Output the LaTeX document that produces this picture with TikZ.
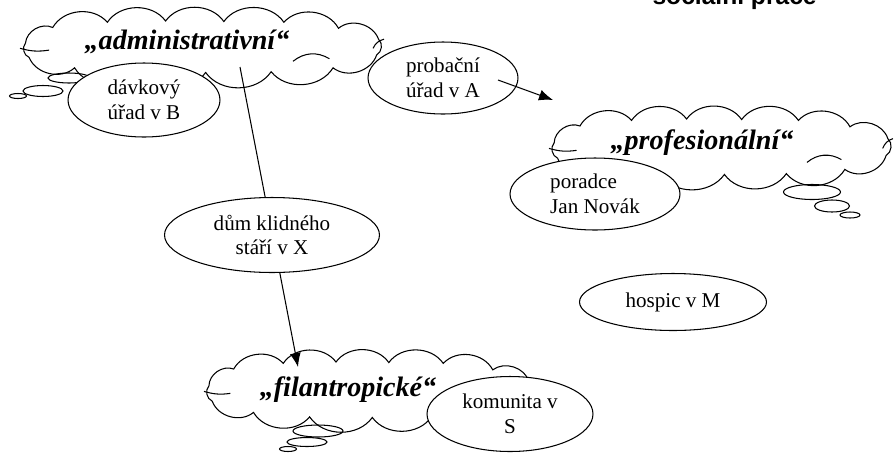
\documentclass[tikz,border=0pt]{standalone}
\usepackage{fontspec}
\setmainfont{Liberation Serif}
\newfontfamily\headfont{Liberation Sans}
\usetikzlibrary{shapes.geometric,arrows.meta}

\tikzset{
  cloud rx/.store in=\cloudrx, cloud rx=100,
  cloud ry/.store in=\cloudry, cloud ry=20,
  thoughtcloud/.pic={
    \draw ({-0.97*\cloudrx},{-0.15*\cloudry}) \foreach \cx/\cy in {-0.82/-0.75,-0.52/-0.95,-0.2/-1,0.12/-0.98,
        0.45/-0.95,0.75/-0.72,0.97/-0.3,0.96/0.3,0.72/0.8,0.38/0.95,
        0.02/0.98,-0.36/0.96,-0.7/0.8,-0.95/0.4,-0.97/-0.15} {to[bend left=55] ({\cx*\cloudrx},{\cy*\cloudry})};
    \draw ({-1.0*\cloudrx},{0.05*\cloudry}) to[bend right=12] ({-0.84*\cloudrx},{0.12*\cloudry});
    \draw ({0.5*\cloudrx},{0.55*\cloudry}) to[bend left=35] ({0.7*\cloudrx},{0.45*\cloudry});
    \draw ({0.94*\cloudrx},{0.05*\cloudry}) to[bend left=25] ({1.0*\cloudrx},{-0.3*\cloudry});
  }
}

\begin{document}
\begin{tikzpicture}[x=0.02cm, y=-0.02cm, line width=0.6pt,
    place/.style={draw, ellipse, fill=white, inner sep=0pt, align=center,
      font=\fontsize{12}{14}\selectfont},
    cloudtext/.style={font=\fontsize{16}{18}\selectfont\bfseries\itshape},
    bubble/.style={draw, ellipse, inner sep=0pt},
    pointer/.style={-{Latex[length=2.8mm,width=2.2mm]}}]
  \useasboundingbox (0,0) rectangle (896,454);
  \clip (0,0) rectangle (896,454);

  \node[anchor=base east, font=\headfont\fontsize{14}{16}\selectfont\bfseries] (title) at (823,4) {sociální práce};

  % the three clouds
  \pic[cloud rx=182, cloud ry=26] at (202,47) {thoughtcloud};
  \pic[cloud rx=172, cloud ry=28] at (721,147) {thoughtcloud};
  \pic[cloud rx=165, cloud ry=28] at (369,390) {thoughtcloud};

  \node[cloudtext] (adm) at (187,42) {„administrativní“};
  \node[cloudtext] (pro) at (702,143) {„profesionální“};
  \node[cloudtext] (fil) at (348,390) {„filantropické“};

  \node[bubble, minimum width=0.84cm, minimum height=0.2cm] (admb1) at (69,78) {};
  \node[bubble, minimum width=0.8cm, minimum height=0.22cm] (admb2) at (43,91) {};
  \node[bubble, minimum width=0.34cm, minimum height=0.1cm] (admb3) at (18,96) {};
  \node[bubble, minimum width=1.14cm, minimum height=0.3cm] (prob1) at (812,192) {};
  \node[bubble, minimum width=0.7cm, minimum height=0.24cm] (prob2) at (832,206) {};
  \node[bubble, minimum width=0.4cm, minimum height=0.12cm] (prob3) at (850,215) {};
  \node[bubble, minimum width=1.0cm, minimum height=0.24cm] (filb1) at (318,431) {};
  \node[bubble, minimum width=0.8cm, minimum height=0.18cm] (filb2) at (307,442) {};
  \node[bubble, minimum width=0.34cm, minimum height=0.1cm] (filb3) at (288,449) {};

  \coordinate (admfoot) at (240,67);
  \coordinate (filhead) at (298,367);
  \coordinate (probfoot) at (498,80);
  \coordinate (protip) at (553,100);
  \draw[pointer] (admfoot) to (filhead);

  % the places
  \node[place, minimum width=3.04cm, minimum height=1.48cm] (dav) at (144,100) {dávkový\\úřad v B};
  \node[place, minimum width=3.0cm, minimum height=1.44cm] (prob) at (443,78) {probační\\úřad v A};
  \node[place, minimum width=4.3cm, minimum height=1.5cm] (dum) at (272,235) {dům klidného\\stáří v X};
  \node[place, minimum width=3.32cm, minimum height=1.5cm] (kom) at (510,414) {komunita v\\S};
  \node[place, minimum width=3.4cm, minimum height=1.44cm, align=left] (por) at (595,194) {poradce\\Jan Novák};
  \node[place, minimum width=3.74cm, minimum height=1.14cm] (hosp) at (673,302) {hospic v M};

  \draw[pointer] (probfoot) to (protip);
\end{tikzpicture}
\end{document}
